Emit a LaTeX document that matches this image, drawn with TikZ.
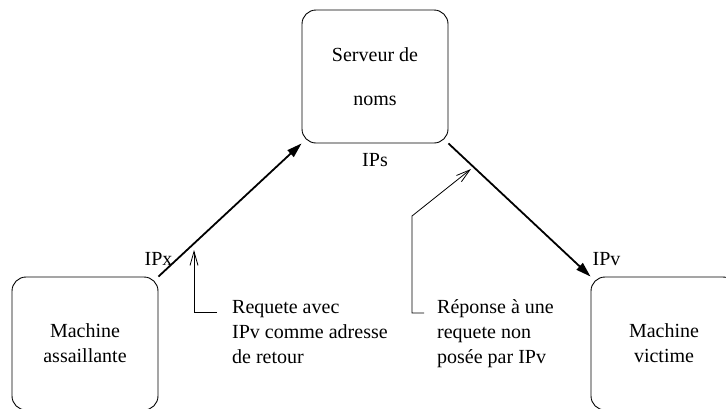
\documentclass[tikz,border=0pt]{standalone}
\usepackage{fontspec}
\setmainfont{Liberation Serif}
\newfontfamily\figfont{Liberation Serif}
\usetikzlibrary{arrows.meta}
\tikzset{
  box/.style={draw, line width=0.9pt, rounded corners=14pt, minimum width=146pt, minimum height=133pt, inner sep=0pt, align=center, font=\figfont\fontsize{20}{25}\selectfont},
  lbl/.style={inner sep=0pt, font=\figfont\fontsize{20}{25}\selectfont},
  note/.style={inner sep=0pt, align=left, anchor=base west, font=\figfont\fontsize{20}{25}\selectfont},
  flow/.style={line width=1.8pt, -{Triangle[length=15pt,width=9pt]}},
  pointer/.style={line width=0.8pt, -{Straight Barb[length=14pt,width=8pt,line width=0.8pt]}}
}
\begin{document}
\begin{tikzpicture}[x=1pt,y=-1pt]
\useasboundingbox (0,0) rectangle (726,408);
\begin{scope}
\clip (0,0) rectangle (726,408);
\node[box] (srv) at (375,76.5) {Serveur de\\[19pt]noms};
\node[box] (att) at (85,343.5) {Machine\\assaillante};
\node[box] (vic) at (664,343.5) {Machine\\victime};
\end{scope}
\node[lbl, anchor=base] (ips) at (375,166) {IPs};
\node[lbl, anchor=base] (ipx) at (158.5,265) {IPx};
\node[lbl, anchor=base] (ipv) at (606.5,265) {IPv};
\node[note] (req) at (232,363) {Requete avec\\IPv comme adresse\\de retour};
\node[note] (rep) at (437,363) {Réponse à une\\requete non\\posée par IPv};
\draw[flow] (att.north east) -- (srv.south west);
\draw[flow] (srv.south east) -- (vic.north west);
\coordinate (reqc) at (217,312);
\coordinate (reqt) at (194,250);
\draw[pointer] (reqc) -| (reqt);
\coordinate (repc) at (424,313);
\coordinate (repk) at (412,216);
\coordinate (rept) at (471,169);
\draw[pointer] (repc) -| (repk) -- (rept);
\end{tikzpicture}
\end{document}
